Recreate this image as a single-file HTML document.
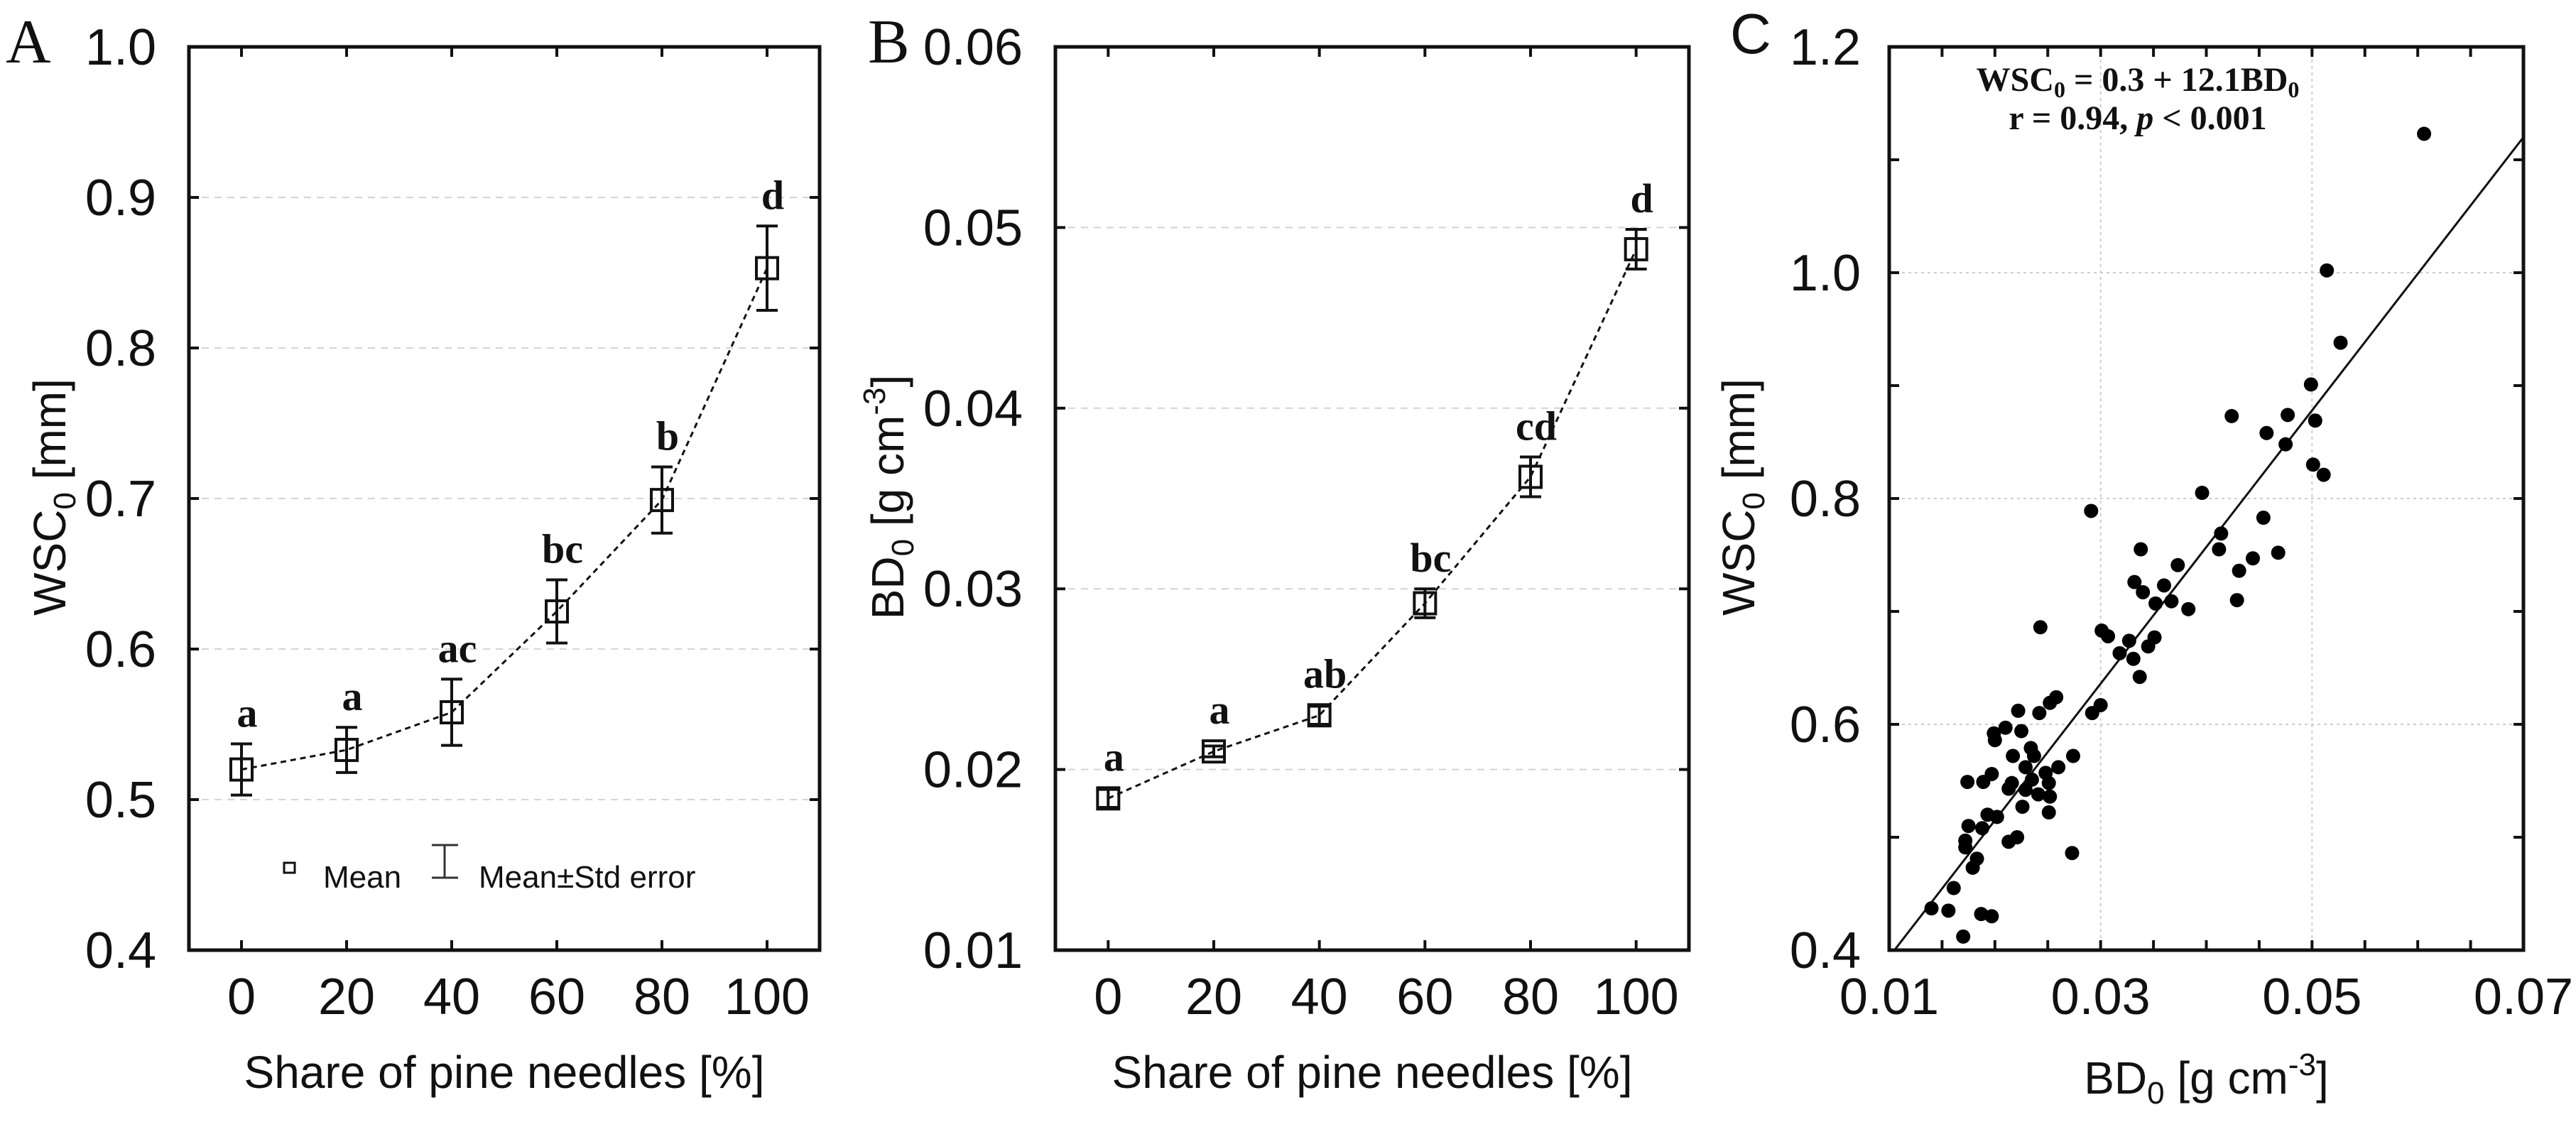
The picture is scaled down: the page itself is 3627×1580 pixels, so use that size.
<!DOCTYPE html>
<html><head><meta charset="utf-8"><style>
body{margin:0;background:#fff;}
svg{display:block;font-family:"Liberation Sans",sans-serif;}
</style></head><body>
<svg id="fig" width="3627" height="1580" viewBox="0 0 3627 1580"></svg>
<script>
const shares = [0, 20, 40, 60, 80, 100];
const wscMean = [0.520, 0.533, 0.558, 0.625, 0.699, 0.853];
const wscErr = [0.017, 0.015, 0.022, 0.021, 0.022, 0.028];
const wscLetters = ["a", "a", "ac", "bc", "b", "d"];
const bdMean = [0.0184, 0.0210, 0.0230, 0.0292, 0.0362, 0.0488];
const bdErr = [0.0005, 0.0003, 0.0005, 0.0008, 0.0011, 0.0011];
const bdLetters = ["a", "a", "ab", "bc", "cd", "d"];
const xTicksAB = [0, 20, 40, 60, 80, 100];
const yTicksA = ["0.4", "0.5", "0.6", "0.7", "0.8", "0.9", "1.0"];
const yTicksB = ["0.01", "0.02", "0.03", "0.04", "0.05", "0.06"];
const yTicksC = ["0.4", "0.6", "0.8", "1.0", "1.2"];
const xTicksC = ["0.01", "0.03", "0.05", "0.07"];
const scatterX = [0.0606,0.0514,0.0527,0.0499,0.0424,0.0477,0.0457,0.0503,0.0475,0.0501,0.0511,0.0396,0.0291,0.0454,0.0414,0.0338,0.0412,0.0468,0.0444,0.0431,0.0373,0.0332,0.0360,0.0340,0.0429,0.0352,0.0367,0.0383,0.0243,0.0301,0.0307,0.0327,0.0351,0.0345,0.0318,0.0331,0.0337,0.0258,0.0252,0.0300,0.0292,0.0222,0.0242,0.0210,0.0199,0.0225,0.0200,0.0234,0.0217,0.0237,0.0274,0.0260,0.0229,0.0248,0.0197,0.0189,0.0174,0.0216,0.0235,0.0251,0.0213,0.0229,0.0241,0.0252,0.0193,0.0202,0.0226,0.0251,0.0175,0.0188,0.0221,0.0213,0.0172,0.0172,0.0183,0.0179,0.0273,0.0161,0.0140,0.0156,0.0187,0.0197,0.0170];
const scatterY = [1.123,1.002,0.938,0.901,0.873,0.874,0.858,0.869,0.848,0.830,0.821,0.805,0.789,0.783,0.769,0.755,0.755,0.752,0.747,0.736,0.741,0.726,0.723,0.717,0.710,0.707,0.709,0.702,0.686,0.683,0.678,0.674,0.677,0.669,0.663,0.658,0.642,0.624,0.619,0.617,0.610,0.612,0.610,0.597,0.592,0.594,0.586,0.579,0.572,0.572,0.572,0.562,0.562,0.557,0.556,0.549,0.549,0.548,0.551,0.548,0.543,0.542,0.538,0.536,0.520,0.518,0.527,0.522,0.510,0.508,0.500,0.496,0.497,0.491,0.481,0.473,0.486,0.455,0.437,0.435,0.432,0.430,0.412];
const fitLine = [0.273, 12.1];

const svg = document.getElementById('fig');
const NS = 'http://www.w3.org/2000/svg';
function mk(tag, attrs, parent, text){
  const e = document.createElementNS(NS, tag);
  for (const k in attrs) e.setAttribute(k, attrs[k]);
  if (text !== undefined) e.textContent = text;
  (parent || svg).appendChild(e);
  return e;
}
function lin(d0, d1, r0, r1){ return v => r0 + (v - d0) / (d1 - d0) * (r1 - r0); }

const TOP = 66, BOT = 1338;

function frame(g, L, R, ys, yTickVals, yLabels, yMap, gridStyle){
  yTickVals.forEach((v, i) => {
    if (i === 0 || i === yTickVals.length - 1) return;
    const y = yMap(v);
    const gl = mk('line', {x1: L, x2: R, y1: y, y2: y, stroke: '#d4d4d4', 'stroke-width': 2, 'stroke-dasharray': gridStyle}, g);
    
    
  });
  yTickVals.forEach((v, i) => {
    const y = yMap(v);
    const t1 = mk('line', {x1: L, x2: L + 14, y1: y, y2: y, stroke: '#111', 'stroke-width': 4}, g);
    
    
    const t2 = mk('line', {x1: R, x2: R - 14, y1: y, y2: y, stroke: '#111', 'stroke-width': 4}, g);
    
    
    const lb = mk('text', {x: L - 46, y: y + 25, 'text-anchor': 'end', 'font-size': 72, fill: '#111'}, g, yLabels[i]);
    
    
  });
  const box = mk('rect', {x: L, y: TOP, width: R - L, height: BOT - TOP, fill: 'none', stroke: '#111', 'stroke-width': 5}, g);
  
  
}

function meanPanel(id, L, R, y0, y1, yTickVals, yLabels, means, errs, letters, yTitle, letter, letterX){
  const g = mk('g', {});
  
  
  const x = lin(-10, 110, L, R);
  const y = lin(y0, y1, BOT, TOP);
  frame(g, L, R, null, yTickVals, yLabels, y, '10 8');
  xTicksAB.forEach(v => {
    const t1 = mk('line', {x1: x(v), x2: x(v), y1: BOT, y2: BOT - 14, stroke: '#111', 'stroke-width': 4}, g);
    
    
    const t2 = mk('line', {x1: x(v), x2: x(v), y1: TOP, y2: TOP + 14, stroke: '#111', 'stroke-width': 4}, g);
    
    
    const lb = mk('text', {x: x(v), y: 1428, 'text-anchor': 'middle', 'font-size': 72, fill: '#111'}, g, String(v));
    
    
  });
  const d = shares.map((s, i) => (i ? 'L' : 'M') + x(s) + ' ' + y(means[i])).join(' ');
  const ln = mk('path', {d: d, fill: 'none', stroke: '#111', 'stroke-width': 3, 'stroke-dasharray': '8 6'}, g);
  
  
  shares.forEach((s, i) => {
    const cx = x(s), cy = y(means[i]);
    const top = y(means[i] + errs[i]), bot = y(means[i] - errs[i]);
    const eb = mk('path', {d: `M${cx} ${top} L${cx} ${bot} M${cx-15} ${top} L${cx+15} ${top} M${cx-15} ${bot} L${cx+15} ${bot}`, stroke: '#111', 'stroke-width': 4, fill: 'none'}, g);
    
    
    const sq = mk('rect', {x: cx - 15, y: cy - 15, width: 30, height: 30, fill: 'none', stroke: '#111', 'stroke-width': 4}, g);
    
    
    const lt = mk('text', {x: cx + 8, y: Math.min(top, cy - 15) - 24, 'text-anchor': 'middle', 'font-size': 58, 'font-weight': 'bold', 'font-family': '"Liberation Serif",serif', fill: '#111'}, g, letters[i]);
    
    
  });
  const xt = mk('text', {x: (L + R) / 2, y: 1532, 'text-anchor': 'middle', 'font-size': 64, fill: '#111'}, g, 'Share of pine needles [%]');
  
  
  const pl = mk('text', {x: letterX, y: 88, 'font-size': 88, 'font-family': '"Liberation Serif",serif', fill: '#111'}, g, letter);
  
  
  return {g, x, y};
}

const A = meanPanel('a', 266, 1154, 0.4, 1.0, [0.4,0.5,0.6,0.7,0.8,0.9,1.0], yTicksA, wscMean, wscErr, wscLetters, '', 'A', 8);
const ytA = mk('text', {transform: 'translate(92,700) rotate(-90)', 'text-anchor': 'middle', 'font-size': 64, fill: '#111'}, A.g);


ytA.innerHTML = 'WSC<tspan font-size="44" dy="14">0</tspan><tspan dy="-14"> [mm]</tspan>';
const lg = mk('g', {}, A.g);


const lsq = mk('rect', {x: 400, y: 1215, width: 15, height: 14, fill: 'none', stroke: '#111', 'stroke-width': 3}, lg);


const lt1 = mk('text', {x: 455, y: 1250, 'font-size': 44, fill: '#111'}, lg, 'Mean');


const leb = mk('path', {d: 'M626 1190 L626 1236 M608 1190 L645 1190 M608 1236 L645 1236', stroke: '#333', 'stroke-width': 3, fill: 'none'}, lg);


const lt2 = mk('text', {x: 674, y: 1250, 'font-size': 44, fill: '#111'}, lg, 'Mean±Std error');



const B = meanPanel('b', 1486, 2378, 0.01, 0.06, [0.01,0.02,0.03,0.04,0.05,0.06], yTicksB, bdMean, bdErr, bdLetters, '', 'B', 1222);
const ytB = mk('text', {transform: 'translate(1272,700) rotate(-90)', 'text-anchor': 'middle', 'font-size': 64, fill: '#111'}, B.g);


ytB.innerHTML = 'BD<tspan font-size="44" dy="14">0</tspan><tspan dy="-14"> [g cm</tspan><tspan font-size="44" dy="-26">-3</tspan><tspan dy="26">]</tspan>';

const gC = mk('g', {});


const CL = 2660, CR = 3553;
const cx = lin(0.01, 0.07, CL, CR);
const cy = lin(0.4, 1.2, BOT, TOP);
const yValsC = yTicksC.map(Number), xValsC = xTicksC.map(Number);
yValsC.forEach((v, i) => {
  if (i > 0 && i < yValsC.length - 1) {
    const gl = mk('line', {x1: CL, x2: CR, y1: cy(v), y2: cy(v), stroke: '#ccc', 'stroke-width': 2, 'stroke-dasharray': '4 5'}, gC);
    
    
  }
  const lb = mk('text', {x: 2620, y: cy(v) + 25, 'text-anchor': 'end', 'font-size': 72, fill: '#111'}, gC, yTicksC[i]);
  
  
});
xValsC.forEach((v, i) => {
  if (i > 0 && i < xValsC.length - 1) {
    const gl = mk('line', {x1: cx(v), x2: cx(v), y1: TOP, y2: BOT, stroke: '#ccc', 'stroke-width': 2, 'stroke-dasharray': '4 5'}, gC);
    
    
  }
  const lb = mk('text', {x: cx(v), y: 1428, 'text-anchor': 'middle', 'font-size': 72, fill: '#111'}, gC, xTicksC[i]);
  
  
});
for (let v = 0.4; v <= 1.2001; v += 0.1) {
  const t1 = mk('line', {x1: CL, x2: CL + 14, y1: cy(v), y2: cy(v), stroke: '#111', 'stroke-width': 4}, gC);
  
  
  const t2 = mk('line', {x1: CR, x2: CR - 14, y1: cy(v), y2: cy(v), stroke: '#111', 'stroke-width': 4}, gC);
  
  
}
for (let v = 0.01; v <= 0.07001; v += 0.005) {
  const t1 = mk('line', {x1: cx(v), x2: cx(v), y1: BOT, y2: BOT - 14, stroke: '#111', 'stroke-width': 4}, gC);
  
  
  const t2 = mk('line', {x1: cx(v), x2: cx(v), y1: TOP, y2: TOP + 14, stroke: '#111', 'stroke-width': 4}, gC);
  
  
}
const fx0 = (0.4 - fitLine[0]) / fitLine[1], fx1 = 0.07;
const fl = mk('line', {x1: cx(fx0), y1: cy(0.4), x2: cx(fx1), y2: cy(fitLine[0] + fitLine[1] * fx1), stroke: '#111', 'stroke-width': 3}, gC);


scatterX.forEach((v, i) => {
  const p = mk('ellipse', {cx: cx(v), cy: cy(scatterY[i]), rx: 10, ry: 10, fill: '#000'}, gC);
  
  
});
const boxC = mk('rect', {x: CL, y: TOP, width: CR - CL, height: BOT - TOP, fill: 'none', stroke: '#111', 'stroke-width': 5}, gC);


const eq1 = mk('text', {x: 3010, y: 128, 'text-anchor': 'middle', 'font-size': 48, 'font-weight': 'bold', 'font-family': '"Liberation Serif",serif', fill: '#111'}, gC);


eq1.innerHTML = 'WSC<tspan font-size="32" dy="9">0</tspan><tspan dy="-9"> = 0.3 + 12.1BD</tspan><tspan font-size="32" dy="9">0</tspan>';
const eq2 = mk('text', {x: 3010, y: 182, 'text-anchor': 'middle', 'font-size': 48, 'font-weight': 'bold', 'font-family': '"Liberation Serif",serif', fill: '#111'}, gC);


eq2.innerHTML = 'r = 0.94, <tspan font-style="italic">p</tspan> &lt; 0.001';
const ytC = mk('text', {transform: 'translate(2470,700) rotate(-90)', 'text-anchor': 'middle', 'font-size': 64, fill: '#111'}, gC);


ytC.innerHTML = 'WSC<tspan font-size="44" dy="14">0</tspan><tspan dy="-14"> [mm]</tspan>';
const xtC = mk('text', {x: (CL + CR) / 2, y: 1540, 'text-anchor': 'middle', 'font-size': 64, fill: '#111'}, gC);


xtC.innerHTML = 'BD<tspan font-size="44" dy="14">0</tspan><tspan dy="-14"> [g cm</tspan><tspan font-size="44" dy="-26">-3</tspan><tspan dy="26">]</tspan>';
const plC = mk('text', {x: 2436, y: 75, 'font-size': 80, fill: '#111'}, gC, 'C');


</script>
</body></html>
